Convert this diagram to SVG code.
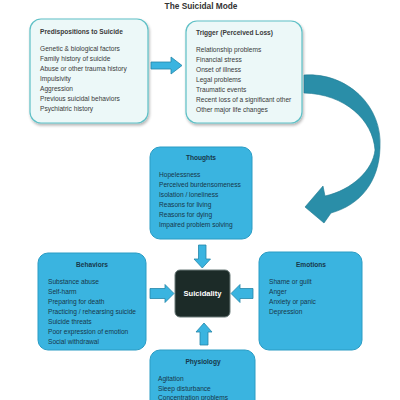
<svg xmlns="http://www.w3.org/2000/svg" width="400" height="400" viewBox="0 0 400 400">
<defs>
<filter id="sh" x="-10%" y="-10%" width="130%" height="130%"><feGaussianBlur in="SourceAlpha" stdDeviation="1.5"/><feOffset dx="1" dy="1.5"/><feComponentTransfer><feFuncA type="linear" slope="0.3"/></feComponentTransfer><feMerge><feMergeNode/><feMergeNode in="SourceGraphic"/></feMerge></filter>
</defs>
<style>
text{font-family:"Liberation Sans",Arial,sans-serif;font-size:6.6px}
.light{fill:#ecf8f8;stroke:#5ec0c6;stroke-width:1.2}
.blue{fill:#3ab4e0;stroke:#2a9cc4;stroke-width:1}
.dark{fill:#1c2b28;stroke:#6a7a78;stroke-width:1}
.arr{fill:#3ab4e0;stroke:#2486a8;stroke-width:0.8}
.curve{fill:#2a8ea8;stroke:#1f7890;stroke-width:0.6}
.tl{fill:#3a3a3a}
.tb{fill:#17374a}
.h{font-weight:bold}
.c{text-anchor:middle}
</style>
<rect width="400" height="400" fill="#ffffff"/>
<text x="201" y="9" class="h c" style="font-size:8.3px" fill="#333">The Suicidal Mode</text>

<g id="predispositions">
<rect x="30" y="19" width="118" height="104" rx="11" class="light" filter="url(#sh)"/>
<text x="40" y="34" class="tl h">Predispositions to Suicide</text>
<text class="tl"><tspan x="40" y="51">Genetic &amp; biological factors</tspan><tspan x="40" y="61">Family history of suicide</tspan><tspan x="40" y="71">Abuse or other trauma history</tspan><tspan x="40" y="81">Impulsivity</tspan><tspan x="40" y="91">Aggression</tspan><tspan x="40" y="101">Previous suicidal behaviors</tspan><tspan x="40" y="111">Psychiatric history</tspan></text>
</g>

<g id="trigger">
<rect x="186" y="21" width="116" height="102" rx="11" class="light" filter="url(#sh)"/>
<text x="196" y="35" class="tl h">Trigger (Perceived Loss)</text>
<text class="tl"><tspan x="196" y="52">Relationship problems</tspan><tspan x="196" y="62">Financial stress</tspan><tspan x="196" y="72">Onset of illness</tspan><tspan x="196" y="82">Legal problems</tspan><tspan x="196" y="92">Traumatic events</tspan><tspan x="196" y="102">Recent loss of a significant other</tspan><tspan x="196" y="112">Other major life changes</tspan></text>
</g>

<g id="thoughts">
<rect x="150" y="147" width="102" height="92" rx="10" class="blue"/>
<text x="201" y="160" class="tb h c">Thoughts</text>
<text class="tb"><tspan x="159" y="177">Hopelessness</tspan><tspan x="159" y="187">Perceived burdensomeness</tspan><tspan x="159" y="197">Isolation / loneliness</tspan><tspan x="159" y="207">Reasons for living</tspan><tspan x="159" y="217">Reasons for dying</tspan><tspan x="159" y="227">Impaired problem solving</tspan></text>
</g>

<g id="behaviors">
<rect x="38" y="253" width="108" height="97" rx="10" class="blue"/>
<text x="92" y="267" class="tb h c">Behaviors</text>
<text class="tb"><tspan x="48" y="284">Substance abuse</tspan><tspan x="48" y="294">Self-harm</tspan><tspan x="48" y="304">Preparing for death</tspan><tspan x="48" y="314">Practicing / rehearsing suicide</tspan><tspan x="48" y="324">Suicide threats</tspan><tspan x="48" y="334">Poor expression of emotion</tspan><tspan x="48" y="344">Social withdrawal</tspan></text>
</g>

<g id="emotions">
<rect x="259" y="252" width="103" height="98" rx="10" class="blue"/>
<text x="311" y="267" class="tb h c">Emotions</text>
<text class="tb"><tspan x="269" y="284">Shame or guilt</tspan><tspan x="269" y="294">Anger</tspan><tspan x="269" y="304">Anxiety or panic</tspan><tspan x="269" y="314">Depression</tspan></text>
</g>

<g id="suicidality">
<rect x="175" y="270" width="55" height="47" rx="5" class="dark"/>
<text x="202.5" y="296" class="h c" style="font-size:7.6px" fill="#ffffff">Suicidality</text>
</g>

<g id="physiology">
<rect x="150" y="350" width="105" height="70" rx="10" class="blue"/>
<text x="203" y="364" class="tb h c">Physiology</text>
<text class="tb"><tspan x="158" y="381">Agitation</tspan><tspan x="158" y="391">Sleep disturbance</tspan><tspan x="158" y="399.5">Concentration problems</tspan></text>
</g>

<g id="connectors">
<path class="arr" d="M151,62 L171,62 L171,57 L182,65.5 L171,74 L171,69 L151,69 Z"/>
<path class="curve" d="M304,75 C347,72 383,106 380,148 C379,182 360,205 331,213 L324,223 L305,207 L323,186 L325,196 C352,190 373,170 375,150 C373,120 345,94 304,93 Z"/>
<path class="arr" d="M198.5,245 L206,245 L206,259 L210.5,259 L202.3,268 L194,259 L198.5,259 Z"/>
<path class="arr" d="M150,288.5 L165,288.5 L165,284.5 L174,293.5 L165,302.5 L165,298.5 L150,298.5 Z"/>
<path class="arr" d="M253,288.5 L240,288.5 L240,284.5 L231,293.5 L240,302.5 L240,298.5 L253,298.5 Z"/>
<path class="arr" d="M200,345 L208,345 L208,332 L212,332 L204,323 L196,332 L200,332 Z"/>
</g>
</svg>
